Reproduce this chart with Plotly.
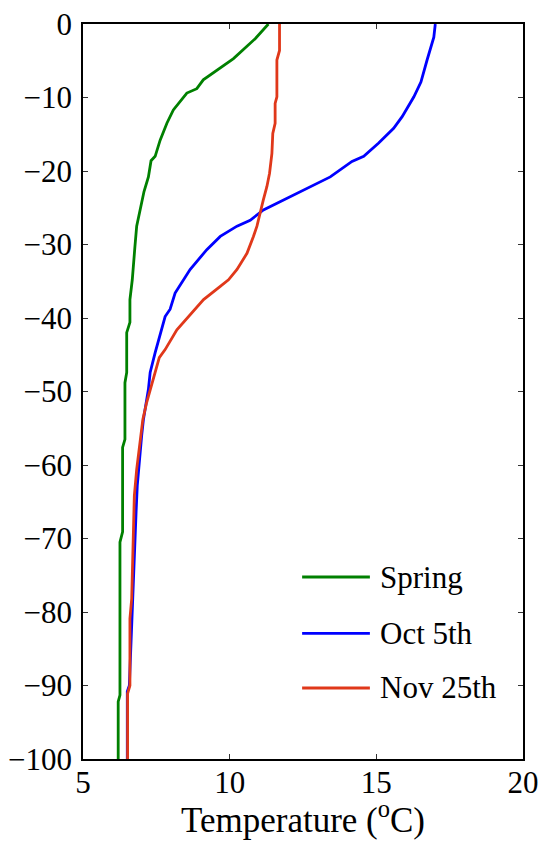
import plotly.graph_objects as go

# Temperature profiles (degC) against depth (m)
spring_temp = [11.32, 10.87, 10.13, 9.10, 8.88, 8.54, 8.08, 7.86, 7.63, 7.46, 7.32, 7.23,
               7.08, 6.92, 6.83, 6.77, 6.70, 6.68, 6.60, 6.60, 6.49, 6.49, 6.43, 6.43,
               6.35, 6.35, 6.26, 6.26, 6.20, 6.20]
spring_depth = [0, -2.0, -4.7, -7.6, -8.8, -9.4, -11.7, -13.5, -15.8, -18.0, -18.6, -20.8,
                -22.8, -25.7, -27.5, -30.3, -33.9, -34.8, -37.5, -40.6, -42.0, -47.4, -48.8, -56.5,
                -57.6, -69.1, -70.5, -91.3, -92.2, -100]

oct_temp = [17.01, 16.96, 16.73, 16.52, 16.28, 15.88, 15.59, 15.42, 15.08, 14.57, 14.17, 13.43,
            12.52, 11.84, 11.15, 10.70, 10.25, 9.68, 9.22, 8.65, 8.42, 8.14, 7.97, 7.80,
            7.46, 7.29, 7.23, 7.06, 7.00, 6.92, 6.85, 6.81, 6.75, 6.66, 6.58, 6.51, 6.51]
oct_depth = [0, -1.8, -4.9, -7.9, -9.9, -12.6, -14.2, -14.9, -16.2, -18.0, -18.7, -20.8,
             -22.6, -23.9, -25.3, -26.7, -27.5, -28.9, -30.7, -33.4, -34.8, -36.6, -38.8, -39.8,
             -44.7, -47.4, -49.7, -53.8, -56.0, -59.2, -62.8, -66.4, -72.8, -80.9, -90.0, -90.8, -100]

nov_temp = [11.70, 11.70, 11.61, 11.61, 11.55, 11.55, 11.47, 11.44, 11.36, 11.27, 11.15, 11.04,
            10.93, 10.81, 10.59, 10.25, 9.96, 9.68, 9.11, 8.20, 7.80, 7.60, 7.40, 7.17,
            7.04, 6.92, 6.83, 6.75, 6.70, 6.66, 6.60, 6.60, 6.52, 6.52]
nov_depth = [0, -3.6, -4.9, -9.9, -10.8, -13.5, -14.9, -17.6, -20.3, -22.1, -23.9, -25.7,
             -27.5, -28.9, -31.2, -33.4, -34.8, -35.7, -37.5, -41.6, -44.3, -45.4, -48.3, -51.5,
             -53.8, -57.8, -60.6, -64.2, -70.5, -78.2, -80.9, -90.0, -91.1, -100]

series_names = ["Spring", "Oct 5th", "Nov 25th"]
series_colors = ["#008000", "#0000FF", "#E0381A"]
x_ticks = [5, 10, 15, 20]
y_ticks = [0, -10, -20, -30, -40, -50, -60, -70, -80, -90, -100]
x_title = "Temperature (<sup>o</sup>C)"

SERIF = "Liberation Serif"
TICK_FONT = dict(family=SERIF, size=31, color="black")

fig = go.Figure()
for name, color, xs, ys in zip(series_names, series_colors,
                               [spring_temp, oct_temp, nov_temp],
                               [spring_depth, oct_depth, nov_depth]):
    fig.add_trace(go.Scatter(x=xs, y=ys, mode="lines", name=name,
                             line=dict(color=color, width=2.8), showlegend=False))

# Hand-drawn legend with long line samples (paper coords of the plot area)
legend_y = [0.2476, 0.171, 0.0966]
for name, color, ly in zip(series_names, series_colors, legend_y):
    fig.add_shape(type="line", xref="paper", yref="paper",
                  x0=0.498, x1=0.652, y0=ly, y1=ly,
                  line=dict(color=color, width=2.8))
    fig.add_annotation(xref="paper", yref="paper", x=0.67, y=ly, text=name,
                       showarrow=False, xanchor="left", yanchor="middle",
                       font=dict(family=SERIF, size=31, color="black"))

# x-axis title placed under the tick labels
fig.add_annotation(xref="paper", yref="paper", x=0.5, y=-0.079, text=x_title,
                   showarrow=False, xanchor="center", yanchor="middle",
                   font=dict(family=SERIF, size=35, color="black"))

axis_style = dict(showgrid=False, zeroline=False, showline=True, mirror="ticks",
                  linecolor="black", linewidth=1.5, ticks="inside", ticklen=5,
                  tickcolor="#333", tickwidth=1, tickfont=TICK_FONT, automargin=False)

fig.update_layout(
    width=548, height=849, plot_bgcolor="white", paper_bgcolor="white",
    margin=dict(l=83, r=25, t=24, b=90),
    font=dict(family=SERIF, size=31, color="black"),
    xaxis=dict(range=[5, 20], tickmode="array", tickvals=x_ticks,
               ticklabelstandoff=-5, **axis_style),
    yaxis=dict(range=[-100, 0], tickmode="array", tickvals=y_ticks,
               ticklabelstandoff=3, **axis_style),
)

fig.write_html("out.html")
